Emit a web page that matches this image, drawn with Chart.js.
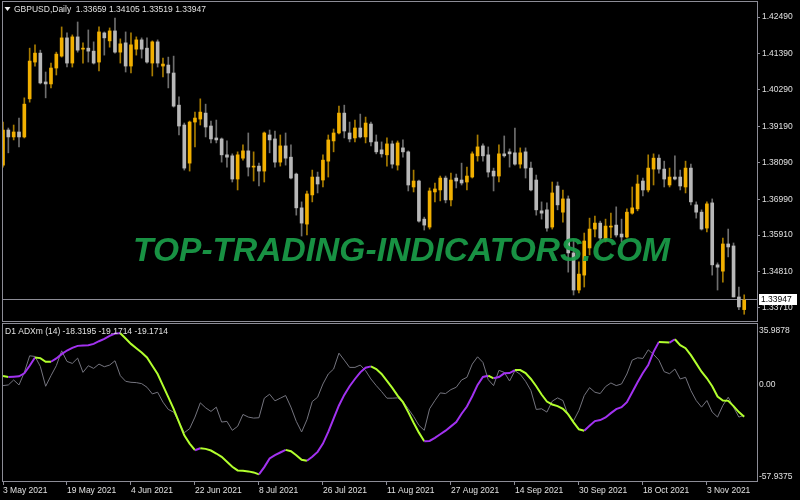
<!DOCTYPE html>
<html><head><meta charset="utf-8">
<script src="https://cdn.jsdelivr.net/npm/chart.js@4/dist/chart.umd.min.js"></script>
<style>
html,body{margin:0;padding:0;background:#000;width:800px;height:500px;overflow:hidden;}
#wrap{position:relative;width:800px;height:500px;background:#000;}
canvas{position:absolute;left:0;}
#c1{top:0;}
#c2{top:322px;}
</style></head><body>
<div id="wrap"><canvas id="c1" width="800" height="322"></canvas><canvas id="c2" width="800" height="178"></canvas></div>
<script>
const symbolTitle = 'GBPUSD,Daily';
const indicatorTitle = 'D1 ADXm (14) -18.3195 -19.1714 -19.1714';
const watermarkText = 'TOP-TRADING-INDICATORS.COM';

const open = [1.3802,1.3908,1.3887,1.3902,1.3887,1.4002,1.4113,1.4140,1.4053,1.4047,
1.4095,1.4131,1.4186,1.4110,1.4189,1.4152,1.4155,1.4146,1.4113,1.4201,
1.4177,1.4207,1.4143,1.4171,1.4101,1.4152,1.4180,1.4155,1.4110,1.4174,
1.4101,1.4104,1.4080,1.3983,1.3923,1.3808,1.3932,1.3941,1.3959,1.3920,
1.3884,1.3881,1.3833,1.3830,1.3760,1.3823,1.3845,1.3796,1.3799,1.3784,
1.3893,1.3881,1.3811,1.3860,1.3826,1.3775,1.3673,1.3624,1.3712,1.3766,
1.3757,1.3814,1.3875,1.3899,1.3959,1.3899,1.3884,1.3914,1.3887,1.3926,
1.3872,1.3848,1.3833,1.3866,1.3802,1.3854,1.3842,1.3736,1.3754,1.3639,
1.3615,1.3721,1.3727,1.3763,1.3697,1.3763,1.3757,1.3751,1.3766,1.3830,
1.3860,1.3833,1.3784,1.3769,1.3836,1.3842,1.3839,1.3805,1.3842,1.3793,
1.3757,1.3664,1.3667,1.3615,1.3739,1.3660,1.3700,1.3537,1.3425,1.3470,
1.3552,1.3609,1.3627,1.3576,1.3615,1.3621,1.3594,1.3585,1.3657,1.3670,
1.3754,1.3727,1.3790,1.3823,1.3790,1.3742,1.3766,1.3766,1.3736,1.3793,
1.3682,1.3660,1.3612,1.3688,1.3501,1.3482,1.3564,1.3558,1.3404,1.33659];

const high = [1.3932,1.3914,1.3923,1.3944,1.4005,1.4155,1.4165,1.4149,1.4083,1.4110,
1.4143,1.4219,1.4201,1.4195,1.4234,1.4171,1.4210,1.4174,1.4219,1.4204,
1.4216,1.4246,1.4183,1.4204,1.4201,1.4189,1.4186,1.4186,1.4177,1.4180,
1.4125,1.4128,1.4131,1.4008,1.3929,1.3935,1.3962,1.4002,1.3986,1.3935,
1.3938,1.3884,1.3875,1.3836,1.3842,1.3863,1.3899,1.3842,1.3808,1.3902,
1.3908,1.3905,1.3893,1.3899,1.3863,1.3778,1.3691,1.3724,1.3787,1.3781,
1.3833,1.3893,1.3911,1.3980,1.3983,1.3932,1.3938,1.3956,1.3947,1.3932,
1.3893,1.3872,1.3884,1.3875,1.3875,1.3878,1.3845,1.3787,1.3757,1.3645,
1.3733,1.3748,1.3769,1.3769,1.3778,1.3775,1.3808,1.3796,1.3842,1.3893,
1.3866,1.3857,1.3793,1.3863,1.3890,1.3851,1.3914,1.3854,1.3854,1.3811,
1.3772,1.3691,1.3688,1.3751,1.3751,1.3727,1.3709,1.3576,1.3510,1.3597,
1.3642,1.3648,1.3633,1.3639,1.3657,1.3676,1.3639,1.3670,1.3736,1.3772,
1.3763,1.3833,1.3836,1.3833,1.3814,1.3793,1.3830,1.3787,1.3814,1.3805,
1.3691,1.3667,1.3691,1.3700,1.3507,1.3582,1.3609,1.3567,1.3434,1.34105];

const low = [1.3796,1.3839,1.3878,1.3857,1.3884,1.3992,1.4101,1.4047,1.4005,1.4035,
1.4074,1.4128,1.4098,1.4098,1.4143,1.4110,1.4113,1.4107,1.4086,1.4134,
1.4158,1.4140,1.4110,1.4083,1.4080,1.4134,1.4125,1.4110,1.4071,1.4098,
1.4068,1.4035,1.3977,1.3893,1.3787,1.3784,1.3857,1.3923,1.3887,1.3869,
1.3869,1.3811,1.3796,1.3751,1.3727,1.3817,1.3769,1.3754,1.3739,1.3751,
1.3839,1.3796,1.3799,1.3802,1.3760,1.3651,1.3588,1.3591,1.3691,1.3718,
1.3736,1.3766,1.3842,1.3896,1.3884,1.3872,1.3872,1.3884,1.3869,1.3860,
1.3836,1.3826,1.3799,1.3793,1.3787,1.3826,1.3724,1.3721,1.3630,1.3606,
1.3609,1.3691,1.3694,1.3688,1.3679,1.3733,1.3742,1.3727,1.3763,1.3814,
1.3814,1.3766,1.3724,1.3751,1.3826,1.3796,1.3802,1.3793,1.3763,1.3724,
1.3651,1.3639,1.3603,1.3609,1.3667,1.3630,1.3479,1.3410,1.3416,1.3434,
1.3531,1.3585,1.3576,1.3570,1.3582,1.3585,1.3570,1.3582,1.3654,1.3664,
1.3709,1.3721,1.3742,1.3778,1.3736,1.3736,1.3757,1.3727,1.3718,1.3682,
1.3642,1.3606,1.3600,1.3470,1.3425,1.3449,1.3525,1.3404,1.3366,1.33519];

const close = [1.3908,1.3887,1.3902,1.3887,1.3986,1.4116,1.4140,1.4050,1.4047,1.4095,
1.4137,1.4186,1.4110,1.4189,1.4149,1.4155,1.4146,1.4110,1.4204,1.4186,
1.4207,1.4143,1.4168,1.4101,1.4165,1.4180,1.4152,1.4113,1.4174,1.4110,
1.4107,1.4080,1.3980,1.3920,1.3793,1.3932,1.3944,1.3962,1.3917,1.3881,
1.3878,1.3833,1.3826,1.3760,1.3833,1.3845,1.3796,1.3799,1.3784,1.3899,
1.3878,1.3811,1.3860,1.3823,1.3763,1.3673,1.3627,1.3715,1.3766,1.3745,
1.3817,1.3878,1.3899,1.3959,1.3905,1.3881,1.3914,1.3887,1.3929,1.3872,
1.3842,1.3836,1.3866,1.3805,1.3869,1.3842,1.3742,1.3754,1.3633,1.3621,
1.3724,1.3730,1.3763,1.3697,1.3757,1.3754,1.3748,1.3769,1.3836,1.3857,
1.3830,1.3781,1.3769,1.3836,1.3830,1.3836,1.3805,1.3839,1.3793,1.3727,
1.3667,1.3657,1.3612,1.3718,1.3682,1.3700,1.3537,1.3425,1.3473,1.3573,
1.3609,1.3627,1.3582,1.3618,1.3618,1.3591,1.3585,1.3660,1.3673,1.3745,
1.3727,1.3793,1.3823,1.3790,1.3760,1.3766,1.3760,1.3739,1.3793,1.3691,
1.3660,1.3609,1.3685,1.3501,1.3494,1.3564,1.3555,1.3404,1.3374,1.33947];

const adxLine = [5.07,4.48,4.68,4.88,6.65,11.18,16.10,15.71,13.54,13.54,
15.51,18.07,20.24,21.81,22.99,23.19,23.39,24.17,25.75,27.13,
28.90,30.28,30.47,27.32,24.17,21.61,19.05,16.10,11.18,6.26,
-0.64,-7.53,-14.42,-22.30,-30.17,-35.10,-39.03,-37.85,-38.24,-39.22,
-41.00,-42.97,-45.93,-48.88,-51.05,-51.24,-51.63,-52.23,-53.41,-49.08,
-43.96,-41.99,-40.41,-38.84,-39.62,-41.99,-44.74,-45.34,-42.97,-40.02,
-35.10,-28.20,-20.33,-12.45,-6.15,-1.03,3.30,7.24,9.99,10.78,
9.21,6.26,2.12,-2.01,-6.54,-10.48,-16.39,-22.69,-28.60,-33.73,
-33.52,-31.75,-29.58,-27.42,-24.86,-22.30,-17.37,-13.04,-6.94,-0.24,
4.48,5.27,3.70,4.48,6.65,6.85,8.62,8.62,6.85,3.30,
-1.03,-5.95,-10.09,-11.86,-12.85,-14.42,-17.77,-22.50,-26.63,-27.42,
-24.46,-21.71,-21.12,-19.54,-16.98,-14.62,-13.44,-10.48,-4.57,1.34,
6.85,11.57,19.45,25.35,25.16,24.96,26.93,23.39,21.61,17.48,
12.56,7.63,3.70,-1.03,-7.14,-9.50,-9.70,-12.85,-16.39,-19.1714];

const grayLine = [-0.64,-0.24,2.71,-0.24,7.24,17.08,16.69,10.78,-1.03,5.27,
11.18,20.04,13.74,12.56,15.71,7.24,11.18,9.60,12.16,10.59,
11.57,14.13,5.27,1.92,1.33,1.14,0.54,-1.62,-5.56,-4.58,
-10.48,-14.81,-16.39,-22.30,-28.60,-26.24,-19.34,-10.88,-13.83,-15.99,
-13.44,-22.30,-21.90,-27.22,-24.86,-17.77,-19.34,-19.94,-19.74,-8.12,
-5.76,-9.70,-8.12,-6.54,-13.44,-21.90,-28.20,-20.92,-10.09,-7.53,
0.35,6.26,9.21,18.66,14.52,10.19,10.19,11.57,8.23,3.30,
-0.64,-4.18,-8.12,-8.12,-7.92,-10.09,-14.42,-18.95,-24.27,-27.22,
-14.42,-9.50,-4.97,-5.36,-3.00,-1.62,2.71,4.29,12.16,16.49,
13.15,2.91,-0.64,8.42,7.24,2.12,8.23,6.06,1.92,-3.59,
-14.81,-14.42,-16.39,-9.89,-7.92,-9.50,-18.36,-21.51,-15.41,-6.54,
-1.82,-4.58,-5.36,-1.23,0.94,-0.64,0.35,6.26,14.52,15.90,
15.51,20.63,17.87,14.52,7.63,6.45,9.21,3.30,4.29,-3.59,
-9.50,-13.44,-9.50,-16.39,-19.34,-12.45,-7.53,-13.44,-19.34,-18.3195];

const dateTickBars = [0,12,24,36,48,60,72,84,96,108,120,132];
const dateTickLabels = ['3 May 2021','19 May 2021','4 Jun 2021','22 Jun 2021','8 Jul 2021','26 Jul 2021',
  '11 Aug 2021','27 Aug 2021','14 Sep 2021','30 Sep 2021','18 Oct 2021','3 Nov 2021'];
const priceTicks = [1.42490,1.41390,1.40290,1.39190,1.38090,1.36990,1.35910,1.34810,1.33710];
const priceTickLabels = ['1.42490','1.41390','1.40290','1.39190','1.38090','1.36990','1.35910','1.34810','1.33710'];
const indTicks = [35.9878, 0, -57.9375];
const indTickLabels = ['35.9878','0.00','-57.9375'];

const FONT = '"Liberation Sans", Arial, sans-serif';
const TXT = '#e0e0e0';
const FRAME = '#8c8c96';
const UP = '#f2b000', DOWN = '#b8b8b8', UPW = '#a87c00', DOWNW = '#6e6e6e';
const PURPLE = '#a232f0', LIME = '#b2ff2e', GRAYLINE = '#74747e';

const last = close.length - 1;
const idx = open.map((_, i) => i);
const isUp = idx.map(i => close[i] >= open[i]);

function noPad(s) { s.paddingTop = 0; s.paddingBottom = 0; s.paddingLeft = 0; s.paddingRight = 0; }

const framePlugin = {
  id: 'frame',
  afterDraw(chart) {
    const {ctx, chartArea: a} = chart;
    ctx.save();
    ctx.strokeStyle = FRAME; ctx.lineWidth = 1;
    ctx.strokeRect(a.left - 0.5, a.top - 0.5, a.right - a.left + 1, a.bottom - a.top);
    ctx.restore();
  }
};

const pricePlugin = {
  id: 'priceDeco',
  beforeDatasetsDraw(chart) {
    const {ctx, chartArea: a, scales} = chart;
    const py = Math.round(scales.y.getPixelForValue(close[last])) - 0.5;
    ctx.save();
    ctx.strokeStyle = FRAME; ctx.lineWidth = 1;
    ctx.beginPath(); ctx.moveTo(a.left, py); ctx.lineTo(a.right, py); ctx.stroke();
    ctx.restore();
  },
  afterDatasetsDraw(chart) {
    const {ctx} = chart;
    ctx.save();
    ctx.font = 'italic bold 33px ' + FONT;
    const w = ctx.measureText(watermarkText).width;
    ctx.translate(401.5, 261);
    ctx.scale(537 / w, 1);
    ctx.textAlign = 'center'; ctx.textBaseline = 'alphabetic';
    ctx.fillStyle = 'rgba(26,156,72,0.93)';
    ctx.fillText(watermarkText, 0, 0);
    ctx.restore();
  },
  afterDraw(chart) {
    const {ctx, chartArea: a, scales} = chart;
    ctx.save();
    const py = Math.round(scales.y.getPixelForValue(close[last]));
    ctx.fillStyle = '#ffffff';
    ctx.fillRect(a.right + 2, py - 6, 38, 11);
    ctx.fillStyle = '#000000';
    ctx.font = '8.5px ' + FONT; ctx.textBaseline = 'middle'; ctx.textAlign = 'left';
    ctx.fillText(close[last].toFixed(5), a.right + 4, py - 0.5);
    ctx.fillStyle = '#f0f0f0';
    ctx.beginPath(); ctx.moveTo(4.5, 7); ctx.lineTo(10.5, 7); ctx.lineTo(7.5, 11); ctx.closePath(); ctx.fill();
    ctx.fillStyle = TXT;
    const t = symbolTitle + '  ' + [open[last], high[last], low[last], close[last]].map(v => v.toFixed(5)).join(' ');
    ctx.fillText(t, 14, 9.5);
    ctx.restore();
  }
};

const indPlugin = {
  id: 'indDeco',
  afterDraw(chart) {
    const {ctx, chartArea: a, scales} = chart;
    ctx.save();
    ctx.font = '8.5px ' + FONT; ctx.textBaseline = 'middle'; ctx.textAlign = 'left';
    ctx.fillStyle = TXT;
    indTicks.forEach((v, i) => {
      let py = scales.y.getPixelForValue(v);
      py = Math.min(Math.max(py, a.top + 7), a.bottom - 5);
      ctx.fillText(indTickLabels[i], a.right + 2, py);
    });
    ctx.fillText(indicatorTitle, 5, 10);
    ctx.restore();
  }
};

new Chart(document.getElementById('c1'), {
  type: 'bar',
  data: {
    datasets: [
      { label: 'body', data: idx.map(i => ({x: i, y: [open[i], close[i]]})),
        backgroundColor: idx.map(i => isUp[i] ? UP : DOWN), barThickness: 3, grouped: false,
        minBarLength: 1, borderWidth: 0, order: 0 },
      { label: 'wick', data: idx.map(i => ({x: i, y: [low[i], high[i]]})),
        backgroundColor: idx.map(i => isUp[i] ? UPW : DOWNW), barThickness: 1, grouped: false,
        borderWidth: 0, order: 1 }
    ]
  },
  options: {
    responsive: false, animation: false, devicePixelRatio: 1,
    layout: { padding: { left: 3, top: 2, right: 0, bottom: 0 } },
    plugins: { legend: { display: false }, tooltip: { enabled: false } },
    scales: {
      x: { type: 'linear', min: 0, max: 141.4, offset: false, display: false },
      y: { position: 'right', min: 1.33285, max: 1.42943, beginAtZero: false,
        afterFit: s => { s.width = 43; noPad(s); },
        afterBuildTicks: s => { s.ticks = priceTicks.map(v => ({value: v})); },
        ticks: { color: TXT, font: { family: 'Liberation Sans', size: 8.5 }, padding: 2,
          callback: (v, i) => priceTickLabels[i] },
        grid: { drawOnChartArea: false, drawTicks: true, tickLength: 3, color: FRAME },
        border: { display: false } }
    }
  },
  plugins: [framePlugin, pricePlugin]
});

new Chart(document.getElementById('c2'), {
  type: 'line',
  data: {
    datasets: [
      { label: 'ADXm', data: idx.map(i => ({x: i, y: adxLine[i]})), borderWidth: 2, pointRadius: 0,
        borderColor: LIME, tension: 0,
        segment: { borderColor: c => c.p1.parsed.y > c.p0.parsed.y ? PURPLE : LIME } },
      { label: 'DI', data: idx.map(i => ({x: i, y: grayLine[i]})), borderWidth: 1, pointRadius: 0,
        borderColor: GRAYLINE, tension: 0 }
    ]
  },
  options: {
    responsive: false, animation: false, devicePixelRatio: 1,
    layout: { padding: { left: 3, top: 2, right: 0, bottom: 0 } },
    plugins: { legend: { display: false }, tooltip: { enabled: false } },
    scales: {
      x: { type: 'linear', min: 0, max: 141.4, offset: false,
        afterBuildTicks: s => { s.ticks = dateTickBars.map(v => ({value: v})); },
        afterFit: s => { s.height = 18; noPad(s); },
        ticks: { autoSkip: false, maxRotation: 0, minRotation: 0, align: 'start', color: TXT,
          font: { family: 'Liberation Sans', size: 8.5 }, padding: 1,
          callback: (v, i) => dateTickLabels[i] },
        grid: { drawOnChartArea: false, drawTicks: true, tickLength: 3, color: FRAME },
        border: { display: false } },
      y: { position: 'right', min: -57.9375, max: 35.9878,
        afterFit: s => { s.width = 43; noPad(s); },
        ticks: { display: false }, grid: { display: false }, border: { display: false } }
    }
  },
  plugins: [framePlugin, indPlugin]
});
</script>
</body></html>
